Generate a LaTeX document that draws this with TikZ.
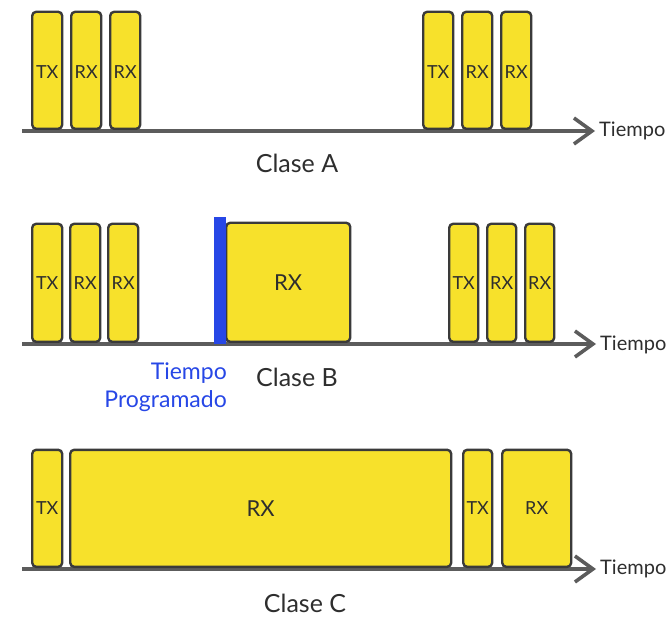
\documentclass[tikz,border=0pt]{standalone}
\usepackage{fontspec}
\setmainfont{Lato}
\usetikzlibrary{arrows.meta}
\definecolor{slotyellow}{HTML}{F7E12B}
\definecolor{slotedge}{HTML}{3A3A3A}
\definecolor{axisgray}{HTML}{5C5C5C}
\definecolor{progblue}{HTML}{2747E6}
\definecolor{txtgray}{HTML}{2E2E2E}
\begin{document}
\begin{tikzpicture}[x=1pt,y=-1pt,
  slot/.style={draw=slotedge, line width=2.4pt, fill=slotyellow, rounded corners=4pt,
    anchor=south west, inner sep=0pt, text=txtgray, text depth=0pt, font=\fontsize{18}{18}\selectfont},
  bigslot/.style={slot, font=\fontsize{22}{22}\selectfont},
  timeaxis/.style={draw=axisgray, line width=3.6pt, -{Straight Barb[length=18pt,width=26pt,line width=3.6pt]}},
  axlabel/.style={anchor=west, inner sep=0pt, text=txtgray, font=\fontsize{20}{20}\selectfont},
  classlabel/.style={inner sep=0pt, text=txtgray, font=\fontsize{25}{25}\selectfont},
  bluelabel/.style={anchor=east, inner sep=0pt, text=progblue, font=\fontsize{23}{23}\selectfont}]
\useasboundingbox (0,0) rectangle (669,617);
% ---------- Clase A ----------
\coordinate (a0) at (22,131);
\coordinate (a1) at (595,131);
\draw[timeaxis] (a0) -- (a1);
\node[slot, minimum width=30pt, minimum height=117pt] (a-tx1) at (31,130) {\raisebox{-3pt}{TX}};
\node[slot, minimum width=30pt, minimum height=117pt] (a-rx1) at (70,130) {\raisebox{-3pt}{RX}};
\node[slot, minimum width=30pt, minimum height=117pt] (a-rx2) at (109,130) {\raisebox{-3pt}{RX}};
\node[slot, minimum width=30pt, minimum height=117pt] (a-tx2) at (422,130) {\raisebox{-3pt}{TX}};
\node[slot, minimum width=30pt, minimum height=117pt] (a-rx3) at (461,130) {\raisebox{-3pt}{RX}};
\node[slot, minimum width=30pt, minimum height=117pt] (a-rx4) at (500,130) {\raisebox{-3pt}{RX}};
\node[axlabel] (a-t) at (599,131) {Tiempo};
\node[classlabel] (a-c) at (297,163) {Clase A};
% ---------- Clase B ----------
\coordinate (b0) at (22,344);
\coordinate (b1) at (596,344);
\draw[timeaxis] (b0) -- (b1);
\node[slot, minimum width=30pt, minimum height=118pt] (b-tx1) at (31,343) {TX};
\node[slot, minimum width=30pt, minimum height=118pt] (b-rx1) at (69,343) {RX};
\node[slot, minimum width=30pt, minimum height=118pt] (b-rx2) at (107,343) {RX};
\node[bigslot, minimum width=124pt, minimum height=119pt] (b-rx) at (225,343) {RX};
\node[fill=progblue, draw=none, anchor=south west, inner sep=0pt, minimum width=12pt, minimum height=127pt] (b-bar) at (214,344) {};
\node[slot, minimum width=29pt, minimum height=118pt] (b-tx2) at (448,343) {TX};
\node[slot, minimum width=29pt, minimum height=118pt] (b-rx3) at (486,343) {RX};
\node[slot, minimum width=29pt, minimum height=118pt] (b-rx4) at (524,343) {RX};
\node[axlabel] (b-t) at (600,345) {Tiempo};
\node[classlabel] (b-c) at (297,377) {Clase B};
\node[bluelabel] (b-p1) at (227,373) {Tiempo};
\node[bluelabel] (b-p2) at (227,401) {Programado};
% ---------- Clase C ----------
\coordinate (c0) at (22,569);
\coordinate (c1) at (596,569);
\draw[timeaxis] (c0) -- (c1);
\node[slot, minimum width=30pt, minimum height=117pt] (c-tx1) at (31,568) {TX};
\node[bigslot, minimum width=381pt, minimum height=117pt] (c-rx1) at (69,568) {RX};
\node[slot, minimum width=29pt, minimum height=117pt] (c-tx2) at (462,568) {TX};
\node[slot, minimum width=69pt, minimum height=117pt] (c-rx2) at (501,568) {RX};
\node[axlabel] (c-t) at (600,569) {Tiempo};
\node[classlabel] (c-c) at (305,603) {Clase C};
\end{tikzpicture}
\end{document}
